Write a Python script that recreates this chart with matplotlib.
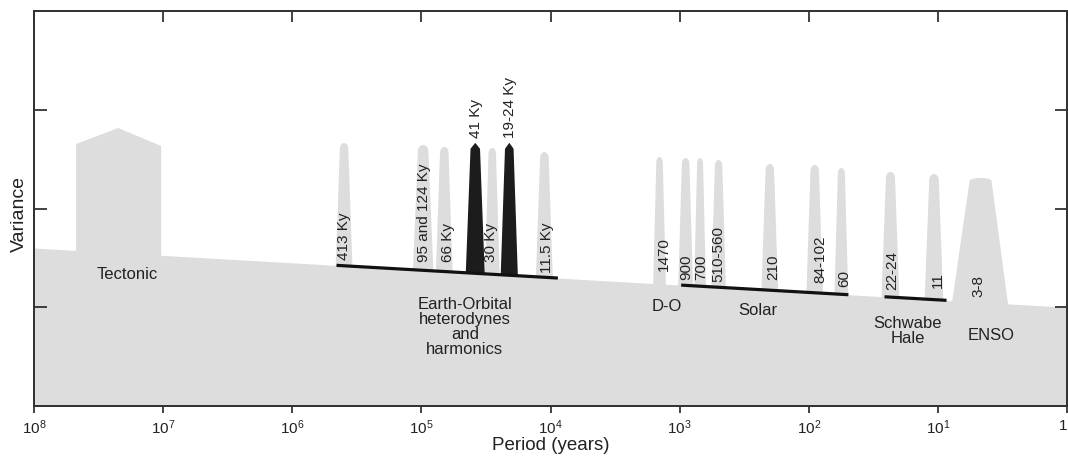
import numpy as np
import matplotlib
matplotlib.use("Agg")
import matplotlib.pyplot as plt
import matplotlib.transforms as mtransforms
from matplotlib.ticker import NullLocator

plt.rcParams['font.family'] = ['Liberation Sans', 'DejaVu Sans']
plt.rcParams['mathtext.fontset'] = 'custom'
plt.rcParams['mathtext.rm'] = 'Liberation Sans'
plt.rcParams['mathtext.it'] = 'Liberation Sans:italic'

GRAY = '#dddddd'
DARK = '#1c1c1c'
TXT = '#222222'

# background continuum (variance at both ends of the period axis)
continuum_period = [1e8, 1.0]
continuum_var = [1.6, 1.0]

# tectonic block
tect_base = [4.72e7, 1.035e7]
tect_apex_period = 2.23e7
tect_top = [2.653, 2.815, 2.633]

# narrow grey peaks: base edges (long / short period) and height
gray_long = [4.62e5, 1.167e5, 7.74e4, 3.23e4, 1.30e4, 1607, 1028, 773, 570, 233, 104.5, 63.4, 27.4, 12.7]
gray_short = [3.41e5, 8.04e4, 5.71e4, 2.47e4, 9.57e3, 1274, 785, 624, 437, 172, 77.3, 49.3, 19.8, 9.04]
gray_top = [2.663, 2.643, 2.623, 2.613, 2.572, 2.522, 2.511, 2.511, 2.491, 2.451, 2.441, 2.410, 2.370, 2.349]

# dominant orbital peaks (black)
black_long = [4.53e4, 2.43e4]
black_short = [3.23e4, 1.79e4]
black_top = [2.665, 2.665]

# ENSO band
enso_base = [7.83, 2.83]
enso_shoulder = [5.68, 3.84]
enso_top = 2.309

# peak labels (rotated)
peak_text = ['413 Ky', '95 and 124 Ky', '66 Ky', '30 Ky', '11.5 Ky', '41 Ky', '19-24 Ky',
             '1470', '900', '700', '510-560', '210', '84-102', '60', '22-24', '11', '3-8']
peak_text_period = [4.0e5, 9.6e4, 6.25e4, 2.9e4, 1.07e4, 3.8e4, 2.07e4,
                    1318, 891, 681, 502, 188, 81, 53, 22.4, 10.0, 4.83]
peak_text_var = [1.478, 1.458, 1.458, 1.458, 1.347, 2.714, 2.714,
                 1.367, 1.276, 1.276, 1.256, 1.276, 1.246, 1.205, 1.175, 1.195, 1.104]

# group bars along the continuum
group_start = [4.54e5, 973, 25.9]
group_end = [8.77e3, 49.3, 8.57]

# group names
group_text = ['Tectonic', 'Earth-Orbital\nheterodynes\nand\nharmonics', 'D-O', 'Solar',
              'Schwabe\nHale', 'ENSO']
group_text_period = [1.9e7, 4.6e4, 1250, 250, 17.2, 3.9]
group_text_var = [1.327, 0.80, 1.003, 0.972, 0.759, 0.709]

tick_periods = [1e8, 1e7, 1e6, 1e5, 1e4, 1e3, 1e2, 1e1, 1]
tick_labels = ['$10^8$', '$10^7$', '$10^6$', '$10^5$', '$10^4$', '$10^3$', '$10^2$', '$10^1$', '1']


def base(p):
    lp = np.log10(np.asarray(p, dtype=float))
    return np.interp(lp, np.log10(continuum_period[::-1]), continuum_var[::-1])


def peak(ax, p_long, p_short, top, color, t_long=None, t_short=None,
         cap=0.06, pointed=False, floor=True, z=2):
    a, b = np.log10(p_long), np.log10(p_short)
    if t_long is None:
        c = (a + b) / 2
        ht = 0.5 * (a - b) / 2
        ta, tb = c + ht, c - ht
    else:
        ta, tb = np.log10(t_long), np.log10(t_short)
    c = (ta + tb) / 2
    ht = (ta - tb) / 2
    if pointed:
        cx = np.array([ta, c, tb])
        cy = np.array([top - cap, top, top - cap])
    else:
        t = np.linspace(0, np.pi, 21)
        cx = c + ht * np.cos(t)
        cy = top - cap + cap * np.sin(t)
    yb_a = base(p_long) - (0.05 if floor else 0)
    yb_b = base(p_short) - (0.05 if floor else 0)
    xs = np.concatenate([[a], cx, [b]])
    ys = np.concatenate([[yb_a], cy, [yb_b]])
    ax.fill(10 ** xs, ys, color=color, lw=0, zorder=z)


fig = plt.figure(figsize=(10.68, 4.57), dpi=100)
ax = fig.add_axes([34 / 1068, 51 / 457, 1033 / 1068, 395 / 457])
ax.set_xscale('log')

xs = np.logspace(0, 8, 300)
ax.fill_between(xs, 0, base(xs), color=GRAY, lw=0, zorder=1)

# tectonic block
tx = [tect_base[0], tect_base[0], tect_apex_period, tect_base[1], tect_base[1]]
ty = [base(tect_base[0]) - 0.05, tect_top[0], tect_top[1], tect_top[2], base(tect_base[1]) - 0.05]
ax.fill(tx, ty, color=GRAY, lw=0, zorder=2)

for pl, ps, tp in zip(gray_long, gray_short, gray_top):
    peak(ax, pl, ps, tp, GRAY)

for pl, ps, tp in zip(black_long, black_short, black_top):
    peak(ax, pl, ps, tp, DARK, cap=0.06, pointed=True, floor=False, z=3)

peak(ax, enso_base[0], enso_base[1], enso_top, GRAY,
     t_long=enso_shoulder[0], t_short=enso_shoulder[1], cap=0.03)

for p1, p2 in zip(group_start, group_end):
    ax.plot([p1, p2], [base(p1), base(p2)], color='#111111', lw=2.3,
            solid_capstyle='butt', zorder=4)

for s, p, v in zip(peak_text, peak_text_period, peak_text_var):
    ax.text(p, v, s, rotation=90, ha='center', va='bottom', fontsize=11,
            color=TXT, zorder=5)

for s, p, v in zip(group_text, group_text_period, group_text_var):
    ax.text(p, v, s, ha='center', va='center', fontsize=12, color=TXT,
            linespacing=0.98, zorder=5)

ax.set_xlim(1e8, 1)
ax.set_ylim(0, 4)
ax.set_xticks(tick_periods)
ax.set_xticklabels(tick_labels, fontsize=11)
ax.xaxis.set_minor_locator(NullLocator())
ax.tick_params(axis='x', direction='out', length=5, width=1.2, pad=4, colors='#222222')
# keep the last label ("1") inside the canvas
last = ax.get_xticklabels()[-1]
last.set_transform(last.get_transform() + mtransforms.ScaledTranslation(-4 / 100, 0, fig.dpi_scale_trans))
ax.set_yticks([1, 2, 3])
ax.set_yticklabels([])
ax.tick_params(axis='y', direction='in', length=9, width=1.2, right=True, colors='#222222')
for sp in ax.spines.values():
    sp.set_linewidth(1.3)
    sp.set_color('#333333')

ax2 = ax.twiny()
ax2.set_xscale('log')
ax2.set_xlim(1e8, 1)
ax2.set_xticks(tick_periods)
ax2.set_xticklabels([])
ax2.xaxis.set_minor_locator(NullLocator())
ax2.tick_params(axis='x', direction='in', length=8, width=1.2, colors='#222222')
for sp in ax2.spines.values():
    sp.set_linewidth(1.3)
    sp.set_color('#333333')

ax.set_xlabel('Period (years)', fontsize=13.5, color=TXT, labelpad=0)
ax.set_ylabel('Variance', fontsize=14, color=TXT)
ax.yaxis.set_label_coords(-0.006, 0.486)

fig.savefig('out.png', dpi=100)
